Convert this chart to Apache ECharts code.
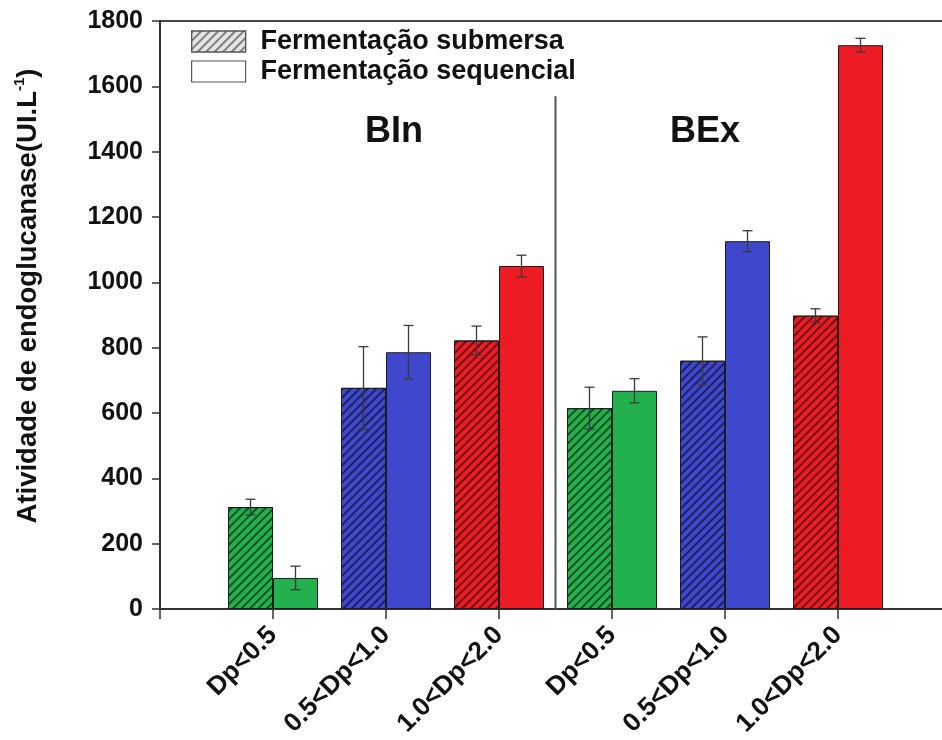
<!DOCTYPE html>
<html>
<head>
<meta charset="utf-8">
<script src="https://cdn.jsdelivr.net/npm/echarts@6/dist/echarts.min.js"></script>
<style>
  html, body { margin: 0; padding: 0; background: #fff; }
  #chart { width: 942px; height: 740px; }
</style>
</head>
<body>
<div id="chart"></div>
<script>
// Particle-size classes, three per substrate (BIn, then BEx)
const categories = ['Dp<0.5', '0.5<Dp<1.0', '1.0<Dp<2.0', 'Dp<0.5', '0.5<Dp<1.0', '1.0<Dp<2.0'];
const groupNames = ['BIn', 'BEx'];
const seriesNames = ['Fermentação submersa', 'Fermentação sequencial'];

// Endoglucanase activity (UI/L) and standard deviations
const submersa = [312, 677, 822, 615, 760, 898];
const submersaErr = [24, 126, 44, 64, 73, 21];
const sequencial = [95, 786, 1050, 668, 1126, 1726];
const sequencialErr = [36, 82, 33, 37, 32, 21];

// One colour per particle-size class
const classColors = ['#22B14C', '#3F48CC', '#ED1C24', '#22B14C', '#3F48CC', '#ED1C24'];

const yMin = 0, yMax = 1800, yStep = 200;
const separatorTop = 1570;   // height of the BIn/BEx divider line
const groupLabelY = 1460;    // height of the BIn / BEx captions

const FONT = 'Liberation Sans, Arial, sans-serif';
const BAR_W = 45;

// the category axis is padded with an empty slot on each side
const axisData = [''].concat(categories, ['']);
function padded(values) {
  return [null].concat(values.map((v, i) => ({
    value: v,
    itemStyle: { color: classColors[i] }
  })), [null]);
}
function errorData(values, errs) {
  return values.map((v, i) => [i + 1, v, errs[i]]);
}

const hatch = {
  symbol: 'rect',
  symbolSize: 1,
  dashArrayX: [1, 0],
  dashArrayY: [1.4, 3.6],
  rotation: -Math.PI / 4,
  color: 'rgba(0,0,0,0.55)'
};

function errorRenderer(offsetSign) {
  return function (params, api) {
    const x = api.value(0), v = api.value(1), e = api.value(2);
    const hi = api.coord([x, v + e]);
    const lo = api.coord([x, v - e]);
    const cx = hi[0] + offsetSign * BAR_W / 2;
    const cap = 5;
    const st = { stroke: '#3a3a3a', lineWidth: 1.3 };
    return {
      type: 'group',
      children: [
        { type: 'line', shape: { x1: cx, y1: hi[1], x2: cx, y2: lo[1] }, style: st },
        { type: 'line', shape: { x1: cx - cap, y1: hi[1], x2: cx + cap, y2: hi[1] }, style: st },
        { type: 'line', shape: { x1: cx - cap, y1: lo[1], x2: cx + cap, y2: lo[1] }, style: st }
      ]
    };
  };
}

const chart = echarts.init(document.getElementById('chart'), null, { renderer: 'canvas' });

const option = {
  backgroundColor: '#fff',
  animation: false,
  textStyle: { fontFamily: FONT },
  grid: {
    left: 160, top: 21, width: 791, height: 588,
    outerBoundsMode: 'none', containLabel: false,
    show: true, borderColor: '#444', borderWidth: 2, backgroundColor: 'transparent'
  },
  legend: {
    orient: 'vertical',
    left: 186, top: 23,
    itemWidth: 54, itemHeight: 21, itemGap: 3,
    icon: 'rect',
    textStyle: { fontFamily: FONT, fontSize: 27, fontWeight: 'bold', color: '#111', padding: [0, 0, 0, 10] },
    data: [
      { name: seriesNames[0], itemStyle: { color: '#e4e4e4', borderColor: '#555', borderWidth: 1.2, decal: Object.assign({}, hatch, { color: 'rgba(60,60,60,0.6)' }) } },
      { name: seriesNames[1], itemStyle: { color: '#fff', borderColor: '#555', borderWidth: 1.2 } }
    ]
  },
  xAxis: {
    type: 'category',
    data: axisData,
    boundaryGap: false,
    axisLine: { lineStyle: { color: '#333', width: 2 } },
    axisTick: { length: 10, lineStyle: { color: '#333', width: 1.5 }, alignWithLabel: true },
    axisLabel: {
      interval: 0, rotate: 45, margin: 22,
      fontFamily: FONT, fontSize: 26, fontWeight: 'bold', color: '#111'
    },
    splitLine: { show: false }
  },
  yAxis: {
    type: 'value',
    min: yMin, max: yMax, interval: yStep,
    axisLine: { show: true, lineStyle: { color: '#333', width: 2 } },
    axisTick: { show: true, length: 8, lineStyle: { color: '#333', width: 1.5 } },
    axisLabel: {
      margin: 17, fontFamily: FONT, fontSize: 25, fontWeight: 'bold', color: '#111',
      formatter: v => String(v)
    },
    splitLine: { show: false }
  },
  series: [
    {
      name: seriesNames[0], type: 'bar', barWidth: BAR_W, barGap: '0%',
      itemStyle: { borderColor: '#1c1c1c', borderWidth: 1, decal: hatch },
      data: padded(submersa), z: 2
    },
    {
      name: seriesNames[1], type: 'bar', barWidth: BAR_W, barGap: '0%',
      itemStyle: { borderColor: '#1c1c1c', borderWidth: 1 },
      data: padded(sequencial), z: 2
    },
    {
      type: 'custom', renderItem: errorRenderer(-1),
      data: errorData(submersa, submersaErr), encode: { x: 0, y: 1 }, z: 5, silent: true
    },
    {
      type: 'custom', renderItem: errorRenderer(1),
      data: errorData(sequencial, sequencialErr), encode: { x: 0, y: 1 }, z: 5, silent: true
    }
  ]
};
chart.setOption(option);

// divider between the two substrates and their captions
const p3 = chart.convertToPixel({ gridIndex: 0 }, [3, yMin]);
const p4 = chart.convertToPixel({ gridIndex: 0 }, [4, yMin]);
const pTop = chart.convertToPixel({ gridIndex: 0 }, [3, separatorTop]);
const pCap = chart.convertToPixel({ gridIndex: 0 }, [2, groupLabelY]);
const pCap2 = chart.convertToPixel({ gridIndex: 0 }, [5, groupLabelY]);
const sepX = (p3[0] + p4[0]) / 2;

chart.setOption({
  graphic: [
    {
      type: 'line', z: 10,
      shape: { x1: sepX, y1: pTop[1], x2: sepX, y2: p3[1] },
      style: { stroke: '#555', lineWidth: 2 }
    },
    {
      type: 'text', x: pCap[0] + 8, y: pCap[1],
      style: { text: groupNames[0], font: 'bold 36px ' + FONT, fill: '#111', align: 'center', verticalAlign: 'middle' }
    },
    {
      type: 'text', x: pCap2[0] - 20, y: pCap2[1],
      style: { text: groupNames[1], font: 'bold 36px ' + FONT, fill: '#111', align: 'center', verticalAlign: 'middle' }
    },
    {
      type: 'text', x: 28, y: 296, rotation: Math.PI / 2,
      style: {
        text: '{a|Atividade de endoglucanase(UI.L}{s|-1}{a|)}',
        align: 'center', verticalAlign: 'middle',
        rich: {
          a: { fontFamily: FONT, fontSize: 27.5, fontWeight: 'bold', fill: '#111', lineHeight: 32 },
          s: { fontFamily: FONT, fontSize: 15, fontWeight: 'bold', fill: '#111', verticalAlign: 'top', lineHeight: 32, padding: [0, 0, 14, 0] }
        }
      }
    }
  ]
});
</script>
</body>
</html>
